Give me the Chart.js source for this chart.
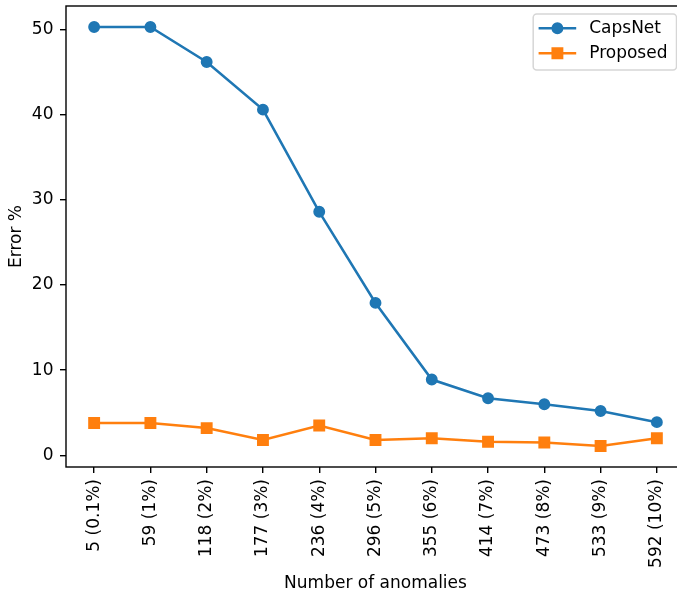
<!DOCTYPE html>
<html><head><meta charset="utf-8">
<script src="https://cdn.jsdelivr.net/npm/chart.js@4/dist/chart.umd.min.js"></script>
<style>
html,body{margin:0;padding:0;background:#fff;overflow:hidden}
#wrap{width:677px;height:594px;overflow:hidden;position:relative;background:#fff}
canvas{display:block}
</style></head><body>
<div id="wrap"><canvas id="c" width="692" height="594"></canvas></div>
<script>
// Number of injected anomalies (count and share of the data set)
const anomalyLabels = ['5 (0.1%)', '59 (1%)', '118 (2%)', '177 (3%)', '236 (4%)', '296 (5%)',
                       '355 (6%)', '414 (7%)', '473 (8%)', '533 (9%)', '592 (10%)'];
// Error % per model
const capsNetError  = [50.3, 50.3, 46.2, 40.6, 28.6, 17.9, 8.9, 6.7, 6.0, 5.2, 3.9];
const proposedError = [3.8, 3.8, 3.2, 1.8, 3.5, 1.8, 2.0, 1.6, 1.5, 1.1, 2.0];
// y axis ticks
const errorTicks = [0, 10, 20, 30, 40, 50];

const BLUE = '#1f77b4', ORANGE = '#ff7f0e';
const FONT = {family: "'DejaVu Sans', sans-serif", size: 17};

// Axes frame (all four spines)
const framePlugin = {
  id: 'frame',
  afterDatasetsDraw(chart) {
    const {ctx, chartArea: a} = chart;
    ctx.save();
    ctx.strokeStyle = '#000';
    ctx.lineWidth = 1.4;
    ctx.strokeRect(a.left, a.top, a.right - a.left, a.bottom - a.top);
    ctx.restore();
  }
};

// Boxed legend in the upper right corner of the plot area
const boxLegend = {
  id: 'boxLegend',
  afterDraw(chart) {
    const {ctx, chartArea: a} = chart;
    const w = 143.3, h = 56;
    const x0 = a.right - 8.5 - w, y0 = a.top + 8;
    ctx.save();
    ctx.beginPath();
    ctx.roundRect(x0, y0, w, h, 3.5);
    ctx.fillStyle = 'rgba(255,255,255,0.8)';
    ctx.fill();
    ctx.lineWidth = 1.5;
    ctx.strokeStyle = 'rgba(204,204,204,0.8)';
    ctx.stroke();
    chart.data.datasets.forEach((ds, i) => {
      const cy = y0 + 14.3 + i * 25;
      const hx0 = x0 + 5.4, hx1 = x0 + 43, mx = (hx0 + hx1) / 2;
      ctx.strokeStyle = ds.borderColor;
      ctx.lineWidth = ds.borderWidth;
      ctx.beginPath();
      ctx.moveTo(hx0, cy); ctx.lineTo(hx1, cy);
      ctx.stroke();
      ctx.fillStyle = ds.pointBackgroundColor;
      ctx.lineWidth = ds.pointBorderWidth;
      ctx.beginPath();
      if (ds.pointStyle === 'rect') {
        const s = ds.pointRadius * Math.SQRT1_2;
        ctx.rect(mx - s, cy - s, 2 * s, 2 * s);
      } else {
        ctx.arc(mx, cy, ds.pointRadius, 0, Math.PI * 2);
      }
      ctx.fill();
      ctx.stroke();
      ctx.fillStyle = '#000';
      ctx.font = "17px 'DejaVu Sans', sans-serif";
      ctx.textBaseline = 'middle';
      ctx.textAlign = 'left';
      ctx.fillText(ds.label, x0 + 56, cy);
    });
    ctx.restore();
  }
};

const tickGrid = {display: true, drawOnChartArea: false, drawTicks: true, tickLength: 6, color: '#000', lineWidth: 1.4};

new Chart(document.getElementById('c'), {
  type: 'line',
  data: {
    labels: anomalyLabels,
    datasets: [
      {label: 'CapsNet', data: capsNetError, borderColor: BLUE, backgroundColor: BLUE,
       borderWidth: 2.55, pointStyle: 'circle', pointRadius: 5.1, pointBorderWidth: 1.7,
       pointBackgroundColor: BLUE, pointBorderColor: BLUE, tension: 0, fill: false},
      {label: 'Proposed', data: proposedError, borderColor: ORANGE, backgroundColor: ORANGE,
       borderWidth: 2.55, pointStyle: 'rect', pointRadius: 7.21, pointBorderWidth: 1.7,
       pointBackgroundColor: ORANGE, pointBorderColor: ORANGE, tension: 0, fill: false}
    ]
  },
  options: {
    responsive: false,
    animation: false,
    events: [],
    devicePixelRatio: 1,
    layout: {autoPadding: false, padding: {left: 0, top: 6, right: 7, bottom: 0}},
    plugins: {legend: {display: false}, tooltip: {enabled: false}},
    scales: {
      x: {
        type: 'category',
        offset: true,
        grid: tickGrid,
        border: {display: false},
        ticks: {minRotation: 90, maxRotation: 90, autoSkip: false, padding: 6, color: '#000', font: FONT},
        title: {display: true, text: 'Number of anomalies', color: '#000', font: FONT, padding: {top: 0, bottom: 0.5}},
        afterFit(s) { s.height = 127; s.paddingLeft = 0; s.paddingRight = 0; }
      },
      y: {
        type: 'linear',
        min: -1.37,
        max: 52.77,
        grid: tickGrid,
        border: {display: false},
        ticks: {padding: 6.5, color: '#000', font: FONT, includeBounds: false},
        afterBuildTicks(s) { s.ticks = errorTicks.map(v => ({value: v})); },
        title: {display: true, text: 'Error %', color: '#000', font: FONT, padding: {top: 6, bottom: 0}},
        afterFit(s) { s.width = 66; s.paddingTop = 0; s.paddingBottom = 0; }
      }
    }
  },
  plugins: [framePlugin, boxLegend]
});
</script>
</body></html>
